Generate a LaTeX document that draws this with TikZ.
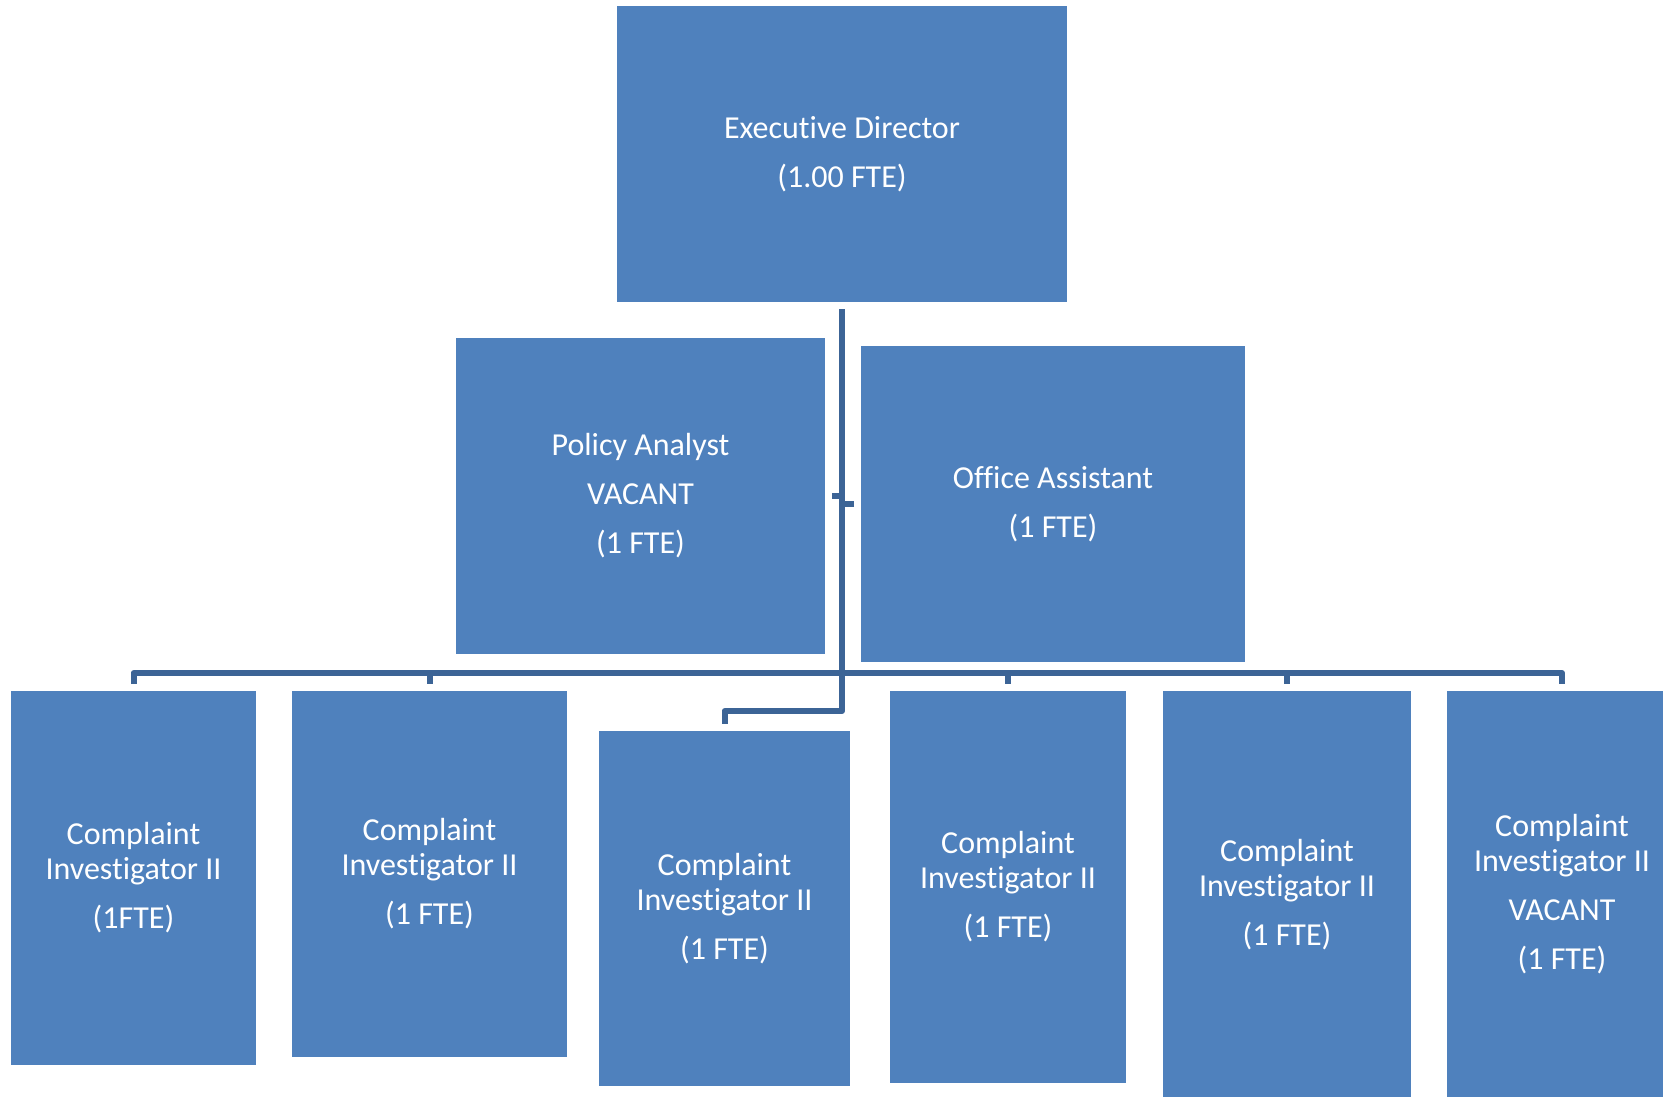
\documentclass[tikz,border=0pt]{standalone}
\usepackage{fontspec}
\setmainfont{Carlito}[Ligatures=NoCommon]
\definecolor{boxblue}{RGB}{79,129,189}
\definecolor{linkblue}{RGB}{60,100,150}
\begin{document}
\begin{tikzpicture}[x=1pt,y=-1pt,
  post/.style={fill=boxblue, draw=none, text=white, align=center,
    inner sep=0pt, outer sep=7pt, font=\fontsize{32}{35}\selectfont},
  conn/.style={draw=linkblue, line width=6pt, line join=round}]
\useasboundingbox (0,0) rectangle (1663,1097);
\clip (0,0) rectangle (1663,1097);

% top level
\node[post, minimum width=450pt, minimum height=296pt] (exec) at (842,154)
  {Executive Director\\[14pt](1.00 FTE)};

% assistants
\node[post, minimum width=369pt, minimum height=316pt] (policy) at (640.5,496)
  {Policy Analyst\\[14pt]VACANT\\[14pt](1 FTE)};
\node[post, minimum width=384pt, minimum height=316pt] (office) at (1053,504)
  {Office Assistant\\[14pt](1 FTE)};

% investigators
\node[post, minimum width=245pt, minimum height=374pt] (ci1) at (133.5,878)
  {Complaint\\Investigator II\\[14pt](1FTE)};
\node[post, minimum width=275pt, minimum height=366pt] (ci2) at (429.5,874)
  {Complaint\\Investigator II\\[14pt](1 FTE)};
\node[post, minimum width=251pt, minimum height=355pt] (ci3) at (724.5,908.5)
  {Complaint\\Investigator II\\[14pt](1 FTE)};
\node[post, minimum width=236pt, minimum height=392pt] (ci4) at (1008,887)
  {Complaint\\Investigator II\\[14pt](1 FTE)};
\node[post, minimum width=248pt, minimum height=407pt] (ci5) at (1287,894.5)
  {Complaint\\Investigator II\\[14pt](1 FTE)};
\node[post, minimum width=230pt, minimum height=407pt] (ci6) at (1562,894.5)
  {Complaint\\Investigator II\\[14pt]VACANT\\[14pt](1 FTE)};

% connector helpers
\coordinate (busy) at (0,673);
\coordinate (elbow) at (842,711);

% trunk and assistant stubs
\draw[conn] (exec.south) -- (elbow) -| (ci3.north);
\draw[conn] (policy.east) -- (policy.east -| exec.south);
\draw[conn] (office.west) -- (office.west -| exec.south);

% bus to investigators
\draw[conn] (ci1.north) |- (ci6.north |- busy) -- (ci6.north);
\foreach \n in {ci2,ci4,ci5}
  \draw[conn] (\n.north |- busy) -- (\n.north);
\end{tikzpicture}
\end{document}
